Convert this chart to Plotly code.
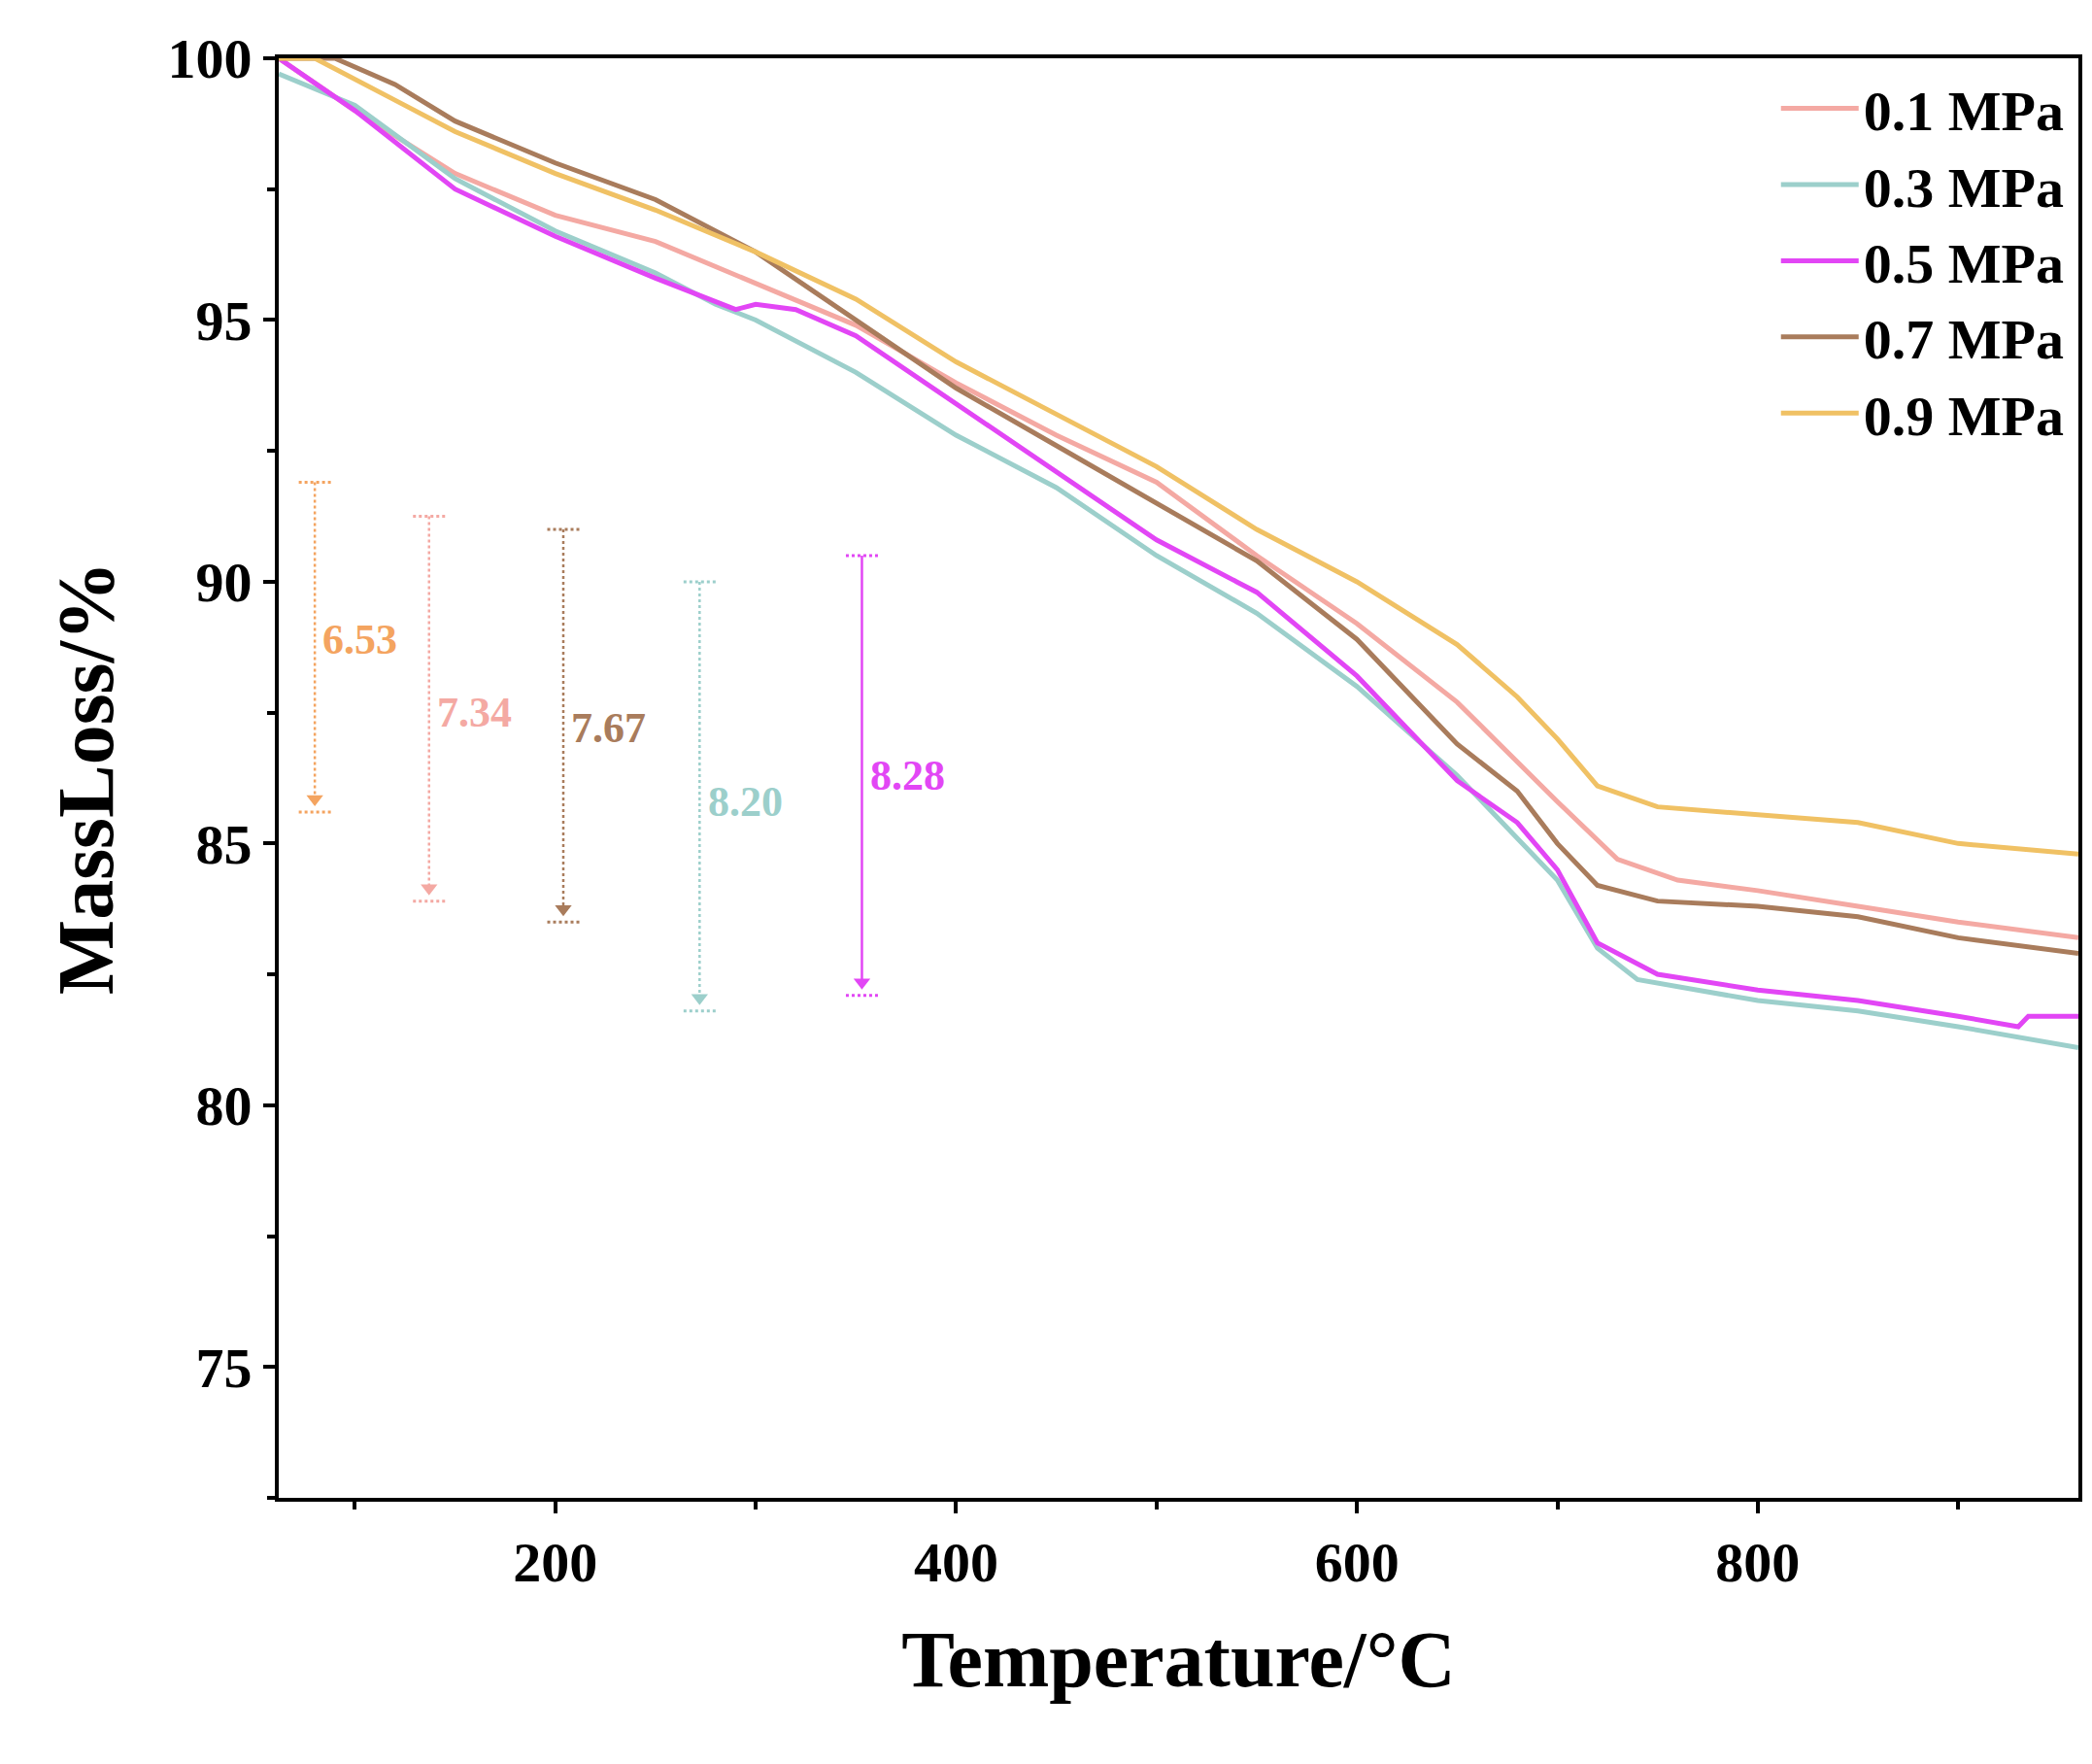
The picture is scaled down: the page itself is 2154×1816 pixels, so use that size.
import plotly.graph_objects as go

# --- curve data (temperature in C, mass %) ---
t_01 = [62, 100, 150, 200, 250, 300, 350, 400, 450, 500, 550, 600, 650, 700, 730, 760, 800, 850, 900, 960]
m_01 = [100, 99.0, 97.8, 97.0, 96.5, 95.7, 94.9, 93.8, 92.8, 91.9, 90.5, 89.2, 87.7, 85.8, 84.7, 84.3, 84.1, 83.8, 83.5, 83.2]

t_03 = [62, 100, 150, 200, 250, 280, 300, 350, 400, 450, 500, 550, 600, 650, 700, 720, 740, 800, 850, 900, 960]
m_03 = [99.7, 99.1, 97.7, 96.7, 95.9, 95.3, 95.0, 94.0, 92.8, 91.8, 90.5, 89.4, 88.0, 86.3, 84.3, 83.0, 82.4, 82.0, 81.8, 81.5, 81.1]

t_05 = [62, 100, 150, 200, 250, 290, 300, 320, 350, 400, 450, 500, 540, 550, 600, 650, 680, 700, 720, 750, 800, 850, 900, 930, 935, 960]
m_05 = [100, 99.0, 97.5, 96.6, 95.8, 95.2, 95.3, 95.2, 94.7, 93.4, 92.1, 90.8, 90.0, 89.8, 88.2, 86.2, 85.4, 84.5, 83.1, 82.5, 82.2, 82.0, 81.7, 81.5, 81.7, 81.7]

t_07 = [62, 90, 120, 150, 200, 250, 300, 350, 400, 450, 500, 550, 600, 650, 680, 700, 720, 750, 800, 850, 900, 960]
m_07 = [100, 100, 99.5, 98.8, 98.0, 97.3, 96.3, 95.0, 93.7, 92.6, 91.5, 90.4, 88.9, 86.9, 86.0, 85.0, 84.2, 83.9, 83.8, 83.6, 83.2, 82.9]

t_09 = [62, 80, 120, 150, 200, 250, 300, 350, 400, 450, 500, 550, 600, 650, 680, 700, 720, 750, 800, 850, 900, 960]
m_09 = [100, 100, 99.2, 98.6, 97.8, 97.1, 96.3, 95.4, 94.2, 93.2, 92.2, 91.0, 90.0, 88.8, 87.8, 87.0, 86.1, 85.7, 85.55, 85.4, 85.0, 84.8]

names = ["0.1 MPa", "0.3 MPa", "0.5 MPa", "0.7 MPa", "0.9 MPa"]
colors = ["#F4A9A3", "#9CCFCB", "#E246F5", "#A97C5C", "#F0C164"]

# --- mass-loss markers ---
arrow_x = [80, 137, 204, 272, 353]
arrow_top = [91.9, 91.25, 91.0, 90.0, 90.5]
arrow_bot = [85.6, 83.9, 83.5, 81.8, 82.1]
arrow_text = ["6.53", "7.34", "7.67", "8.20", "8.28"]
arrow_label_y = [88.9, 87.5, 87.2, 85.8, 86.3]
arrow_colors = ["#F4A460", "#F4A9A3", "#A97C5C", "#9CCFCB", "#E246F5"]
arrow_dash = ["dot", "dot", "dot", "dot", "solid"]

font = "Liberation Serif"
fig = go.Figure()

for t, m, n, c in zip([t_01, t_03, t_05, t_07, t_09], [m_01, m_03, m_05, m_07, m_09], names, colors):
    fig.add_trace(go.Scatter(x=t, y=m, name="<b>%s</b>" % n, mode="lines", line=dict(color=c, width=5)))

cap = 8
for x, y0, y1, txt, ly, c, d in zip(arrow_x, arrow_top, arrow_bot, arrow_text, arrow_label_y, arrow_colors, arrow_dash):
    fig.add_trace(go.Scatter(x=[x, x], y=[y0, y1 + 0.3], mode="lines", showlegend=False,
                             line=dict(color=c, width=2.5, dash=d)))
    for yy in (y0, y1):
        fig.add_trace(go.Scatter(x=[x - cap, x + cap], y=[yy, yy], mode="lines", showlegend=False,
                                 line=dict(color=c, width=3, dash="dot")))
    fig.add_trace(go.Scatter(x=[x], y=[y1 + 0.25], mode="markers", showlegend=False,
                             marker=dict(symbol="triangle-down", size=15, color=c)))
    fig.add_annotation(x=x + 3, y=ly, text="<b>%s</b>" % txt, showarrow=False, xanchor="left",
                       font=dict(family=font, size=44, color=c))

axis = dict(showline=True, linewidth=4, linecolor="black", mirror=True, ticks="outside",
            ticklen=12, tickwidth=4, tickcolor="black", showgrid=False, zeroline=False,
            tickfont=dict(family=font, size=58, color="black", weight="bold"))

fig.update_layout(
    width=2154, height=1816, plot_bgcolor="white", paper_bgcolor="white",
    margin=dict(l=279, r=22, t=52, b=282),
    xaxis=dict(axis, range=[62, 960], dtick=200, minor=dict(dtick=100, ticks="outside", ticklen=8, tickwidth=4),
               title=dict(text="<b>Temperature/°C</b>", font=dict(family=font, size=82, color="black"), standoff=40)),
    yaxis=dict(axis, range=[72.5, 100], dtick=5, minor=dict(dtick=2.5, ticks="outside", ticklen=8, tickwidth=4),
               title=dict(text="<b>MassLoss/%</b>", font=dict(family=font, size=82, color="black"), standoff=30)),
    legend=dict(x=0.995, y=0.995, xanchor="right", yanchor="top", bgcolor="rgba(0,0,0,0)",
                font=dict(family=font, size=58, color="black"), itemwidth=80, tracegroupgap=0),
)

fig.write_html("out.html")
